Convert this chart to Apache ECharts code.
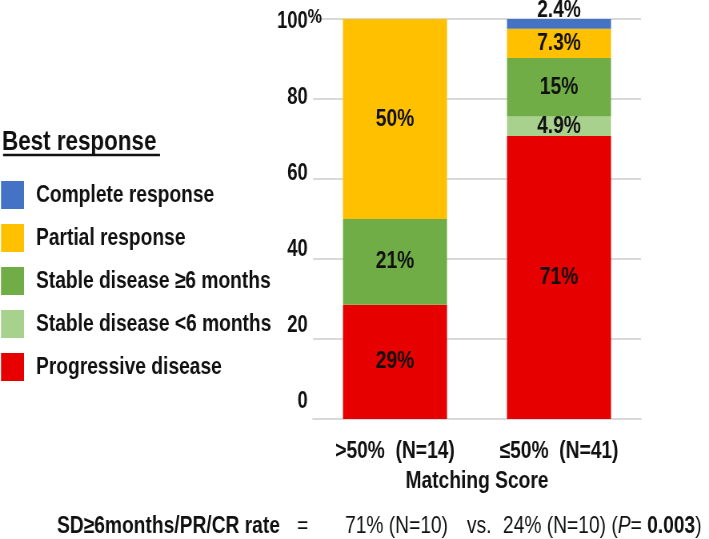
<!DOCTYPE html>
<html><head><meta charset="utf-8">
<script src="https://cdn.jsdelivr.net/npm/echarts@6/dist/echarts.min.js"></script>
<style>
html,body{margin:0;padding:0;background:#fff;overflow:hidden;width:709px;height:539px}
#c{width:886px;height:539px;transform:scaleX(0.80023);transform-origin:0 0}
</style>
</head><body><div id="c"></div>
<script>
const categories = ['>50%  (N=14)', '≤50%  (N=41)'];
const progressive = [28.57, 70.73];
const stableLt6 = [0, 4.88];
const stableGe6 = [21.43, 14.63];
const partial = [50, 7.32];
const complete = [0, 2.44];
const yTicks = [0, 20, 40, 60, 80, 100];
const seriesNames = ['Complete response', 'Partial response', 'Stable disease ≥6 months', 'Stable disease <6 months', 'Progressive disease'];

// The chart is drawn 886px wide and squeezed horizontally to 709px (condensed look of the reference).
const SX = v => v / 0.80023;
const F = '"Liberation Sans", Arial, sans-serif';
const colors = {
  'Complete response': '#4472C4',
  'Partial response': '#FFC000',
  'Stable disease ≥6 months': '#70AD47',
  'Stable disease <6 months': '#A9D18E',
  'Progressive disease': '#E60000'
};
function fmt(p) {
  const v = p.value;
  if (!v) return '';
  return (v >= 10 ? Math.round(v) : v.toFixed(1)) + '%';
}
function mk(name, data, pos) {
  return {
    name, type: 'bar', stack: 'a', data, barWidth: SX(104),
    itemStyle: { color: colors[name] },
    label: {
      show: true, position: pos || 'inside', distance: -3, formatter: fmt,
      fontFamily: F, fontWeight: 'bold', fontSize: 24, color: '#111'
    }
  };
}
const chart = echarts.init(document.getElementById('c'), null, { renderer: 'canvas' });
chart.setOption({
  animation: false,
  textStyle: { fontFamily: F },
  title: [
    { text: 'Best response', left: SX(2), top: 128, padding: 0,
      textStyle: { fontFamily: F, fontWeight: 'bold', fontSize: 28, color: '#111' } },
    { left: SX(57), top: 514, padding: 0,
      text: '{b|SD≥6months/PR/CR rate}{e|=}{m|71% (N=10)}{v|vs.}{n|24% (N=10) (}{i|P}{n|= }{k|0.003}{n|)}',
      textStyle: {
        rich: {
          b: { fontFamily: F, fontWeight: 'bold', fontSize: 24, color: '#111', width: SX(240) },
          e: { fontFamily: F, fontWeight: 'normal', fontSize: 24, color: '#111', width: SX(48) },
          m: { fontFamily: F, fontWeight: 'normal', fontSize: 24, color: '#111', width: SX(122) },
          v: { fontFamily: F, fontWeight: 'normal', fontSize: 24, color: '#111', width: SX(36) },
          n: { fontFamily: F, fontWeight: 'normal', fontSize: 24, color: '#111' },
          k: { fontFamily: F, fontWeight: 'bold', fontSize: 24, color: '#111' },
          i: { fontFamily: F, fontWeight: 'normal', fontStyle: 'italic', fontSize: 24, color: '#111' }
        }
      }
    }
  ],
  graphic: [
    { type: 'line', shape: { x1: SX(3), y1: 155, x2: SX(160), y2: 155 }, style: { stroke: '#111', lineWidth: 2.5 } }
  ],
  legend: {
    data: seriesNames, orient: 'vertical', left: SX(1), top: 181, padding: 0,
    itemWidth: SX(23), itemHeight: 28, itemGap: 15, icon: 'rect',
    textStyle: { fontFamily: F, fontWeight: 'bold', fontSize: 24, color: '#111', padding: [0, 0, 0, SX(8)] }
  },
  grid: { left: SX(313), right: SX(68), top: 19, bottom: 120, containLabel: false },
  xAxis: {
    type: 'category', data: categories,
    axisLine: { lineStyle: { color: '#d9d9d9', width: 2 } },
    axisTick: { show: false },
    axisLabel: { interval: 0, margin: 20, fontFamily: F, fontWeight: 'bold', fontSize: 24, color: '#111' },
    name: 'Matching Score', nameLocation: 'middle', nameGap: 50,
    nameTextStyle: { fontFamily: F, fontWeight: 'bold', fontSize: 24, color: '#111' }
  },
  yAxis: [
    { type: 'value', min: 0, max: 100, interval: 20,
      axisLabel: { show: false }, axisLine: { show: false }, axisTick: { show: false },
      splitLine: { lineStyle: { color: '#d9d9d9', width: 2 } } },
    { type: 'value', min: -4.47, max: 100.79, position: 'left',
      axisLine: { show: false }, axisTick: { show: false }, splitLine: { show: false },
      axisLabel: {
        customValues: yTicks, margin: SX(-9),
        formatter: v => v === 100 ? '100{p|%}' : v + '{h|%}',
        fontFamily: F, fontWeight: 'bold', fontSize: 23, color: '#111',
        rich: {
          p: { fontFamily: F, fontWeight: 'bold', fontSize: 20, color: '#111', padding: [0, 0, 9, 0] },
          h: { fontFamily: F, fontWeight: 'bold', fontSize: 20, color: 'rgba(0,0,0,0)' }
        }
      } }
  ],
  series: [
    mk('Progressive disease', progressive),
    mk('Stable disease <6 months', stableLt6),
    mk('Stable disease ≥6 months', stableGe6),
    mk('Partial response', partial),
    mk('Complete response', complete, 'top')
  ]
});
</script></body></html>
